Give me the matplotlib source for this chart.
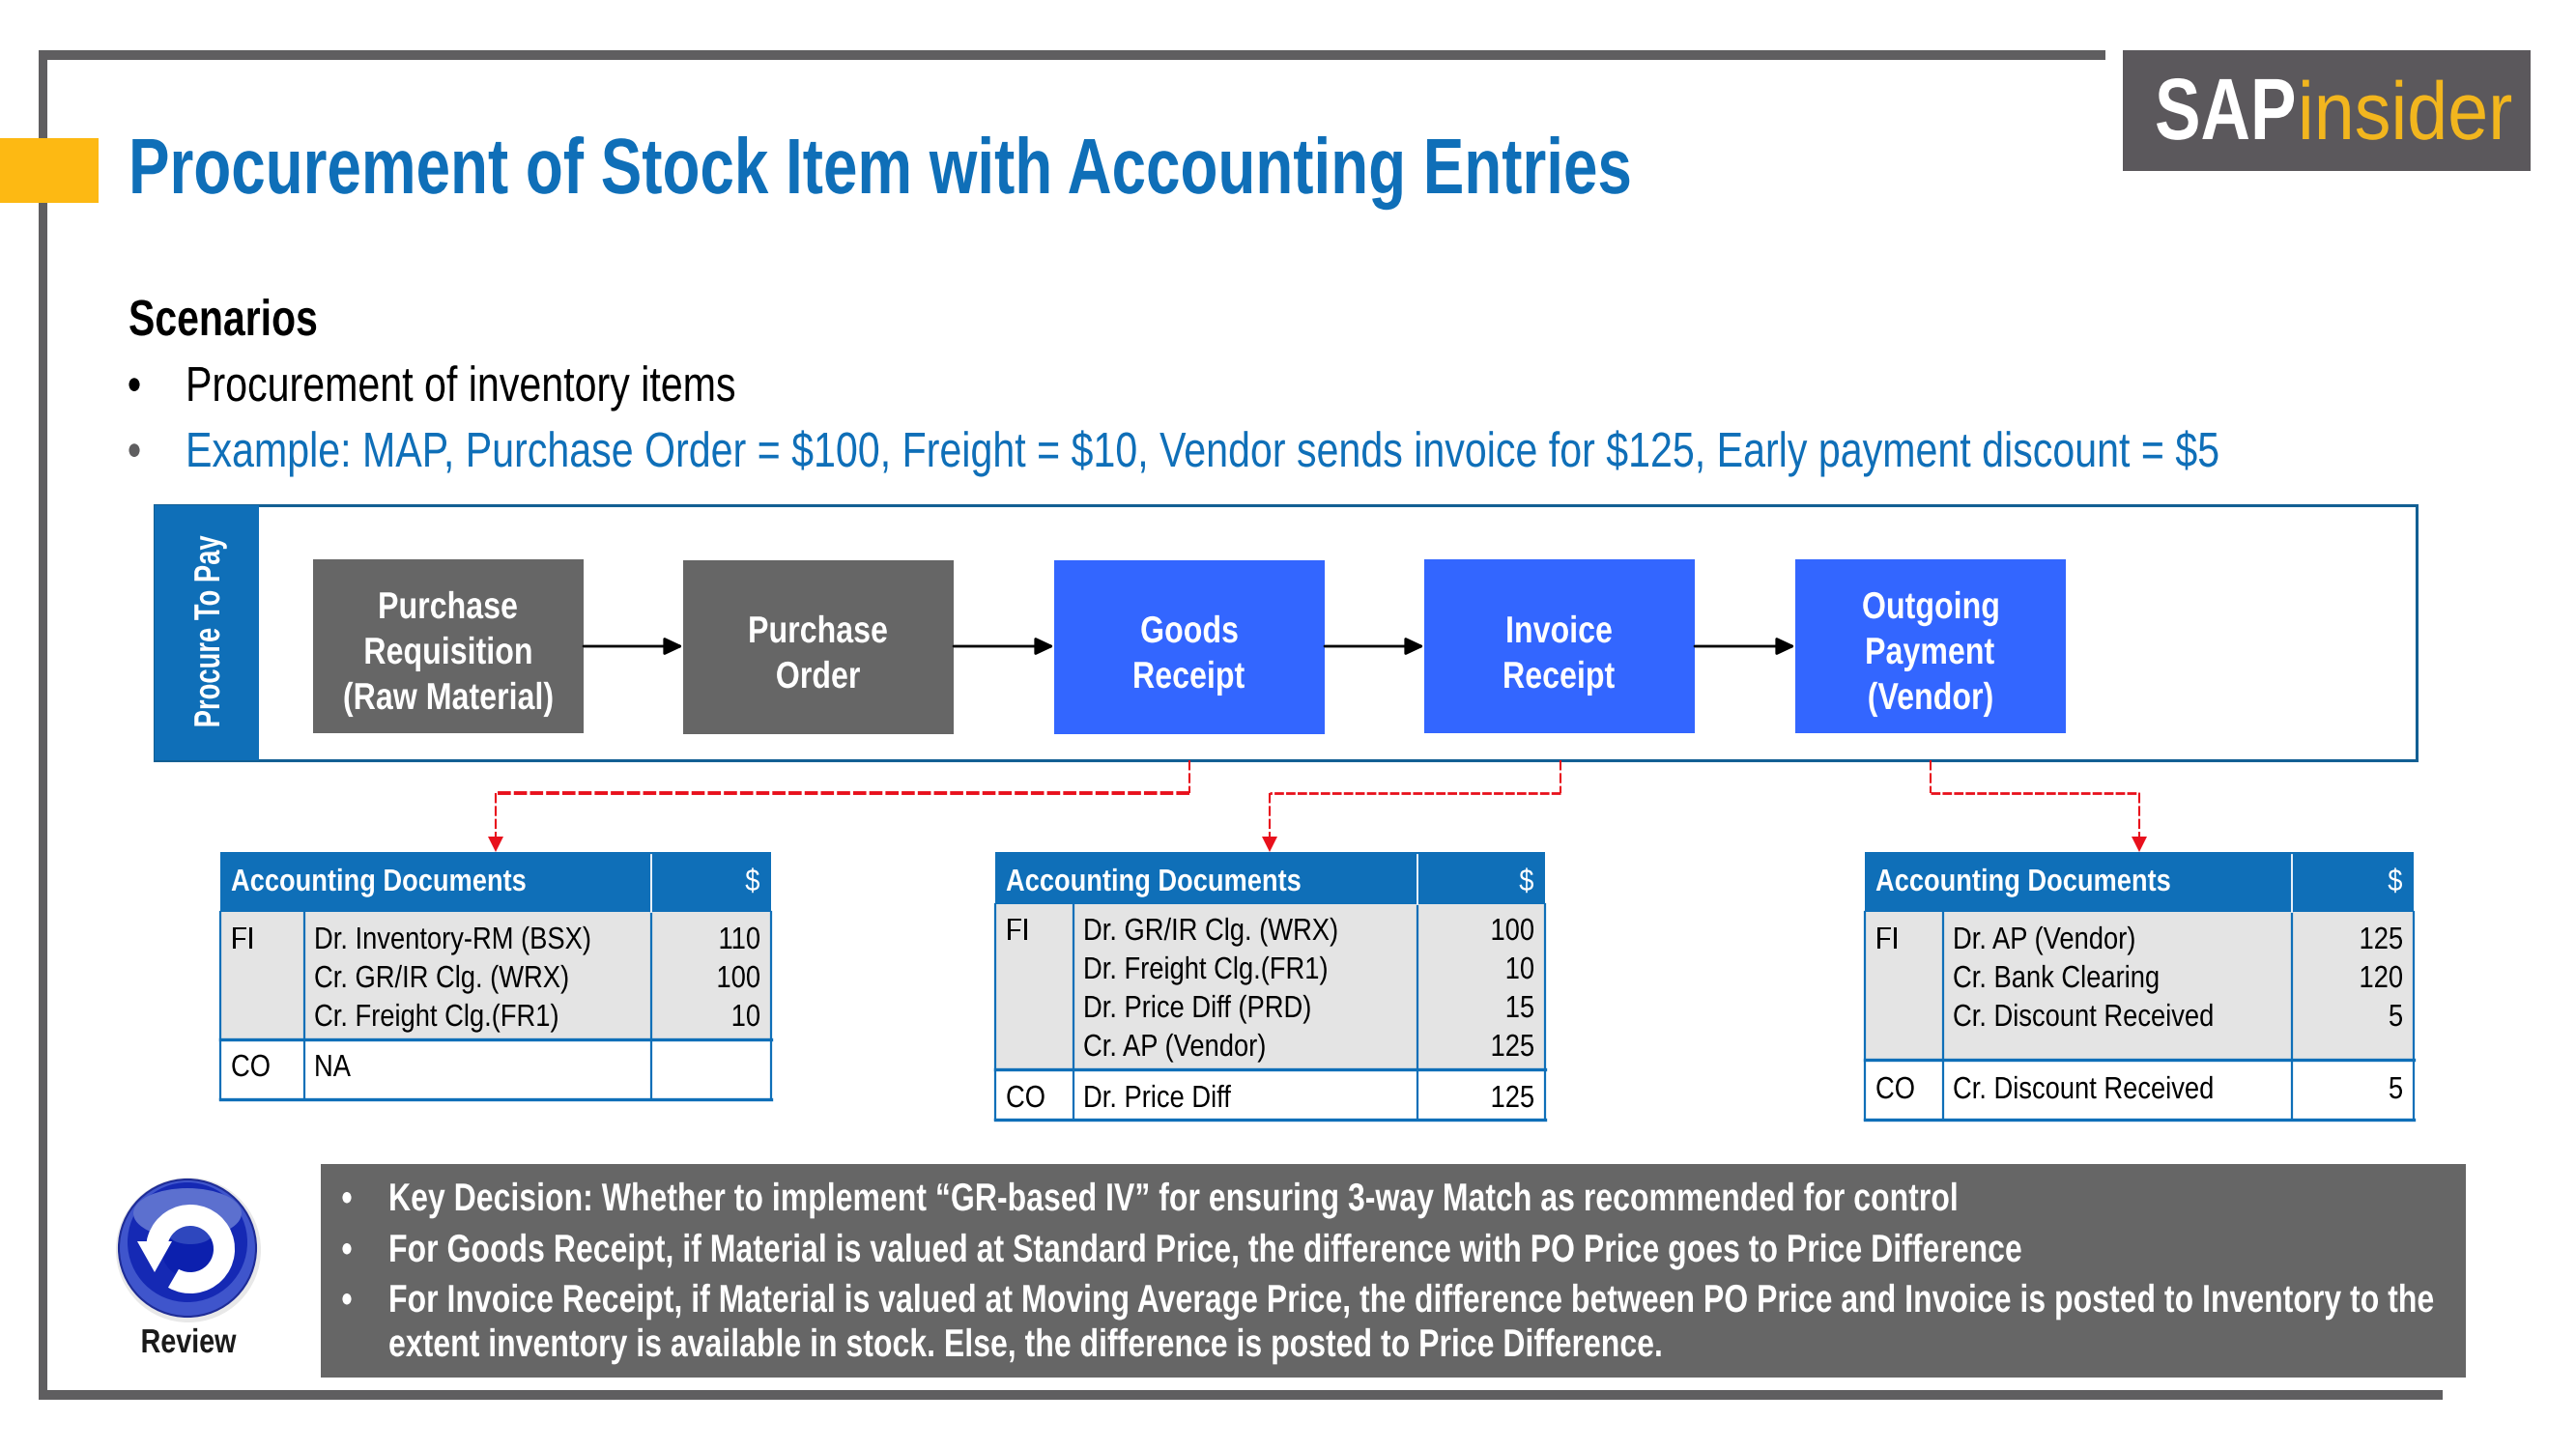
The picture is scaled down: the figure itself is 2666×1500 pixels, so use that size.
import matplotlib
matplotlib.use('Agg')
import matplotlib.pyplot as plt
from matplotlib.patches import Rectangle, Circle, Ellipse, Wedge, Polygon, FancyArrowPatch
from matplotlib.font_manager import FontProperties
from matplotlib.text import Text
from matplotlib.textpath import text_to_path
from matplotlib.path import Path
from matplotlib.transforms import Affine2D, Bbox
from matplotlib.colors import to_rgb

# Slide text
title = 'Procurement of Stock Item with Accounting Entries'
scenario_head = 'Scenarios'
scenario_lines = ['Procurement of inventory items',
                  'Example: MAP, Purchase Order = $100, Freight = $10, Vendor sends invoice for $125, Early payment discount = $5']
flow_band = 'Procure To Pay'
flow_steps = [['Purchase', 'Requisition', '(Raw Material)'], ['Purchase', 'Order'], ['Goods', 'Receipt'],
              ['Invoice', 'Receipt'], ['Outgoing', 'Payment', '(Vendor)']]
notes = ['Key Decision: Whether to implement \u201cGR-based IV\u201d for ensuring 3-way Match as recommended for control',
         'For Goods Receipt, if Material is valued at Standard Price, the difference with PO Price goes to Price Difference',
         'For Invoice Receipt, if Material is valued at Moving Average Price, the difference between PO Price and Invoice is posted to Inventory to the',
         'extent inventory is available in stock. Else, the difference is posted to Price Difference.']

# Accounting tables
t1_fi = ['Dr. Inventory-RM (BSX)', 'Cr. GR/IR Clg. (WRX)', 'Cr. Freight Clg.(FR1)']
t1_fi_amt = ['110', '100', '10']
t1_co = 'NA'
t1_co_amt = ''
t2_fi = ['Dr. GR/IR Clg. (WRX)', 'Dr. Freight Clg.(FR1)', 'Dr. Price Diff (PRD)', 'Cr. AP (Vendor)']
t2_fi_amt = ['100', '10', '15', '125']
t2_co = 'Dr. Price Diff'
t2_co_amt = '125'
t3_fi = ['Dr. AP (Vendor)', 'Cr. Bank Clearing', 'Cr. Discount Received']
t3_fi_amt = ['125', '120', '5']
t3_co = 'Cr. Discount Received'
t3_co_amt = '5'

BLUE = '#0F6FB8'
GREY = '#666666'
FRAME = '#5F5E60'
BRIGHT = '#3366FF'
RED = '#E8101C'
FONT = 'Liberation Sans'

fig = plt.figure(figsize=(26.66, 15), dpi=100)
ax = fig.add_axes([0, 0, 1, 1])
ax.set_xlim(0, 2666)
ax.set_ylim(1500, 0)
ax.axis('off')


# The slide's Arial is squashed sideways and no narrow face is installed
class SqueezedText(Text):
    def __init__(self, x, y, s, squeeze=1.0, **kw):
        super().__init__(x, y, s, parse_math=False, **kw)
        self.squeeze = squeeze

    def _anchor(self):
        return self.get_transform().transform(self.get_position())

    def _outline(self):
        prop = self.get_fontproperties()
        verts, codes = text_to_path.get_text_path(prop, self.get_text(), ismath=False)
        path = Path(verts, codes)
        ext = path.get_extents()
        off = {'left': 0, 'center': -(ext.x0 + ext.x1) / 2, 'right': -ext.x1}[self.get_ha()]
        k = prop.get_size_in_points() * fig.dpi / 72 / text_to_path.FONT_SCALE
        t = Affine2D().translate(off, 0).scale(k * self.squeeze, k).rotate_deg(self.get_rotation()).translate(*self._anchor())
        return path.transformed(t)

    def _get_layout(self, renderer):
        bbox, info, descent = super()._get_layout(renderer)
        if self.get_text():
            x, y = self._anchor()
            bbox = self._outline().get_extents().translated(-x, -y)
        return bbox, info, descent

    def get_window_extent(self, renderer=None, dpi=None):
        if not self.get_text():
            return Bbox([self._anchor(), self._anchor()])
        return self._outline().get_extents()

    def draw(self, renderer):
        if not self.get_visible() or not self.get_text():
            return
        gc = renderer.new_gc()
        gc.set_antialiased(True)
        gc.set_linewidth(0)
        renderer.draw_path(gc, self._outline(), Affine2D(), rgbFace=to_rgb(self.get_color()))
        gc.restore()


def fit(s, size, weight, width):
    prop = FontProperties(family=FONT, weight=weight, size=size)
    verts, codes = text_to_path.get_text_path(prop, s, ismath=False)
    ext = Path(verts, codes).get_extents()
    return width / ((ext.x1 - ext.x0) * size * fig.dpi / 72 / text_to_path.FONT_SCALE)


def box(x0, y0, x1, y1, color, z=1):
    ax.add_patch(Rectangle((x0, y0), x1 - x0, y1 - y0, facecolor=color, edgecolor='none', zorder=z))


def txt(x, y, s, size, squeeze, color='black', weight='normal', ha='left', rotation=0):
    ax.add_artist(SqueezedText(x, y, s, squeeze=squeeze, fontsize=size, color=color, fontweight=weight,
                               ha=ha, family=FONT, zorder=5, rotation=rotation))


# Frame
box(40, 52, 2179, 62, FRAME)
box(40, 52, 49, 1449, FRAME)
box(40, 1439, 2528, 1449, FRAME)
box(0, 143, 102, 210, '#FDB913', 2)

# Logo
box(2197, 52, 2619, 177, '#5B585C')
txt(2230, 144, 'SAP', 65, fit('SAP', 65, 'bold', 142), 'white', 'bold')
txt(2378, 144, 'insider', 61, fit('insider', 61, 'normal', 216), '#F2B61E')

# Header text
txt(133, 200, title, 58.6, fit(title, 58.6, 'bold', 1549), BLUE, 'bold')
txt(133, 347, scenario_head, 37.7, fit(scenario_head, 37.7, 'bold', 193), 'black', 'bold')
line_sq = fit(scenario_lines[1], 36.6, 'normal', 2100)
txt(192, 415, scenario_lines[0], 36.6, line_sq, 'black')
txt(192, 483, scenario_lines[1], 36.6, line_sq, BLUE)
txt(139, 415, '\u2022', 36.6, line_sq, 'black', ha='center')
txt(139, 483, '\u2022', 36.6, line_sq, FRAME, ha='center')

# Flow
ax.add_patch(Rectangle((160, 523), 2341, 264, facecolor='white', edgecolor='#125F93', linewidth=2.2, zorder=1))
box(160, 523, 268, 787, BLUE, 2)
txt(227, 653, flow_band, 27, fit(flow_band, 27, 'bold', 197), 'white', 'bold', ha='center', rotation=90)

step_left = [324, 707, 1091, 1474, 1858]
step_right = [604, 987, 1371, 1754, 2138]
step_top = [579, 580, 580, 579, 579]
step_bottom = [759, 760, 760, 759, 759]
step_colors = [GREY, GREY, BRIGHT, BRIGHT, BRIGHT]
step_sq = fit('(Raw Material)', 28, 'bold', 215)
for i, lines in enumerate(flow_steps):
    box(step_left[i], step_top[i], step_right[i], step_bottom[i], step_colors[i], 2)
    bases = [640, 687, 734] if len(lines) == 3 else [665, 712]
    for b, s in zip(bases, lines):
        txt((step_left[i] + step_right[i]) / 2, b, s, 28, step_sq, 'white', 'bold', ha='center')
    if i < 4:
        ax.add_patch(FancyArrowPatch((step_right[i], 669), (step_left[i + 1], 669),
                                     arrowstyle='-|>,head_length=1.15,head_width=0.54', mutation_scale=10,
                                     color='black', lw=2, shrinkA=0, shrinkB=0, zorder=3))

body_sq = fit('Dr. Inventory-RM (BSX)', 23, 'normal', 283)
head_sq = fit('Accounting Documents', 23, 'bold', 304)


def table(x0, x1, c1, c2, y_head, y_fi, y_end, fi, amts, co, co_amt, fi_base, co_base):
    y0 = 882
    box(x0, y0, x1, y_head, BLUE, 2)
    box(x0, y_head, x1, y_fi, '#E4E4E4', 2)
    for xx in (c1, c2, x0, x1):
        ax.plot([xx, xx], [y_head, y_end], color=BLUE, lw=1.6, zorder=3)
    ax.plot([c2, c2], [y0 + 3, y_head], color='white', lw=1.3, zorder=3)
    ax.plot([x0, x1], [y_fi, y_fi], color=BLUE, lw=2.4, zorder=3)
    ax.plot([x0, x1], [y_end, y_end], color=BLUE, lw=2.4, zorder=3)
    txt(x0 + 11, y0 + 40, 'Accounting Documents', 23, head_sq, 'white', 'bold')
    txt(x1 - 12, y0 + 40, '$', 23, body_sq, 'white', ha='right')
    txt(x0 + 11, fi_base[0], 'FI', 23, body_sq)
    txt(x0 + 11, co_base, 'CO', 23, body_sq)
    for s, a, b in zip(fi, amts, fi_base):
        txt(c1 + 10, b, s, 23, body_sq)
        txt(x1 - 12, b, a, 23, body_sq, ha='right')
    txt(c1 + 10, co_base, co, 23, body_sq)
    txt(x1 - 12, co_base, co_amt, 23, body_sq, ha='right')


table(228, 798, 315, 674, 944, 1076, 1138, t1_fi, t1_fi_amt, t1_co, t1_co_amt, [982, 1022, 1062], 1114)
table(1030, 1599, 1111, 1467, 936, 1107, 1159, t2_fi, t2_fi_amt, t2_co, t2_co_amt, [973, 1013, 1053, 1093], 1146)
table(1930, 2498, 2011, 2372, 944, 1097, 1159, t3_fi, t3_fi_amt, t3_co, t3_co_amt, [982, 1022, 1062], 1137)

# Red dashed links, the level parts run heavier than the drops
link_from = [1231, 1615, 1998]
link_to = [513, 1314, 2214]
link_lw = [2.8, 2.0, 2.0]
for a, b, lw in zip(link_from, link_to, link_lw):
    ax.plot([a, a], [787, 821], color=RED, lw=1.5, ls=(0, (5, 1.4)), zorder=3)
    ax.plot([a, b], [821, 821], color=RED, lw=lw, ls=(0, (3.5, 0.8)), zorder=3)
    ax.plot([b, b], [821, 866], color=RED, lw=1.5, ls=(0, (5, 1.4)), zorder=3)
    ax.add_patch(Polygon([(b - 8, 866), (b + 8, 866), (b, 882)], facecolor=RED, edgecolor='none', zorder=3))

# Notes panel
box(332, 1205, 2552, 1426, GREY)
note_sq = fit(notes[2], 29, 'bold', 2114)
for y, s in zip([1253, 1306, 1358, 1404], notes):
    txt(402, y, s, 29, note_sq, 'white', 'bold')
for y in [1253, 1306, 1358]:
    txt(359, y, '\u2022', 29, note_sq, 'white', 'bold', ha='center')

# Review icon
ic_x, ic_y = 194, 1292
ax.add_patch(Circle((ic_x + 1, ic_y + 2), 75, facecolor='#E8E8E8', edgecolor='none', zorder=2))
ax.add_patch(Circle((ic_x, ic_y), 71, facecolor='#3F55CC', edgecolor='#1E2C96', lw=1.5, zorder=2))
ax.add_patch(Circle((ic_x, ic_y - 6), 62, facecolor='#1529B4', edgecolor='none', zorder=2))
ax.add_patch(Ellipse((ic_x, ic_y - 36), 112, 52, facecolor='#5C70CF', edgecolor='none', zorder=2))
ax.add_patch(Circle((ic_x + 3, ic_y + 1), 30, facecolor='#0C20AE', edgecolor='none', zorder=3))
ax.add_patch(Ellipse((ic_x + 3, ic_y - 15), 46, 22, facecolor='#2E47BE', edgecolor='none', zorder=3))
ax.add_patch(Wedge((ic_x + 3, ic_y + 1), 46, 180, 120, width=22, facecolor='white', edgecolor='none', zorder=4))
ax.add_patch(Polygon([(142, 1285), (178, 1285), (160, 1317)], facecolor='white', edgecolor='none', zorder=4))
txt(196, 1400, 'Review', 25, fit('Review', 25, 'bold', 97), '#1A1A1A', 'bold', ha='center')

fig.savefig('out.png', dpi=100)
